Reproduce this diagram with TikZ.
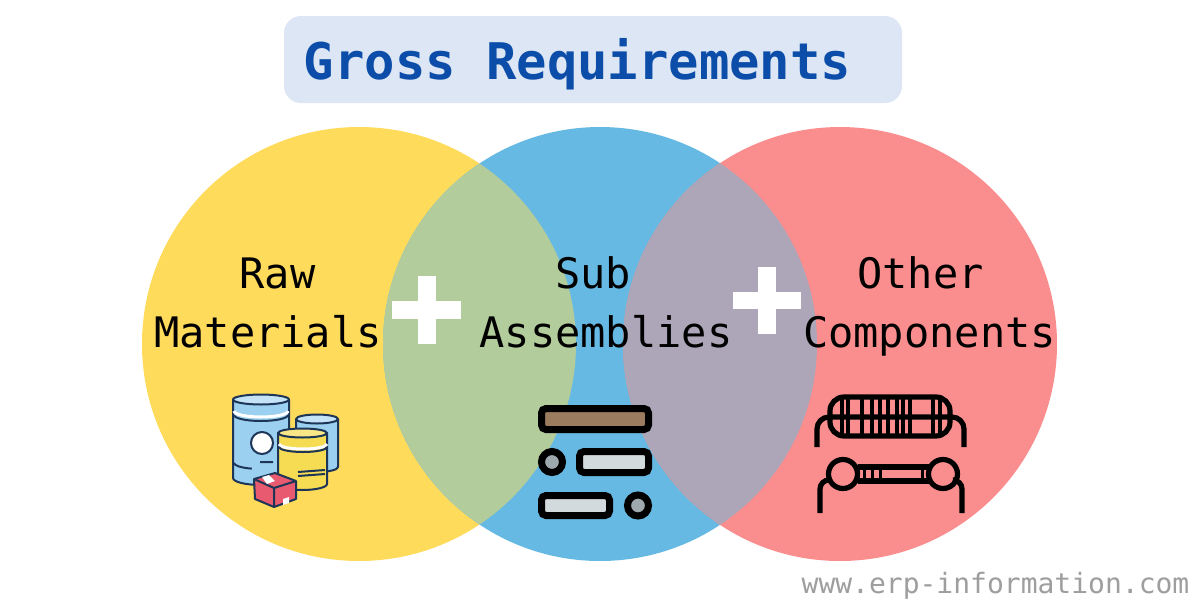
\documentclass[tikz,border=0pt]{standalone}
\usepackage{fontspec}
\setmonofont{DejaVu Sans Mono}
\usetikzlibrary{positioning}
\definecolor{venn yellow}{HTML}{FFDB5C}
\definecolor{venn blue}{HTML}{66B9E2}
\definecolor{venn red}{HTML}{FA8E8E}
\definecolor{venn green}{HTML}{B3CC9C}
\definecolor{venn mauve}{HTML}{ADA5B8}
\definecolor{title back}{HTML}{DCE6F4}
\definecolor{title ink}{HTML}{0B4DA8}
\definecolor{barrel ink}{HTML}{1D3557}
\definecolor{barrel blue}{HTML}{9CD0F0}
\definecolor{barrel top}{HTML}{C4E3F6}
\definecolor{barrel yellow}{HTML}{F6DC52}
\definecolor{box red}{HTML}{E85A70}
\definecolor{part brown}{HTML}{9C7C5E}
\definecolor{part pale}{HTML}{D3DADD}
\definecolor{part grey}{HTML}{9EA9AE}
\tikzset{
	label text/.style={font=\ttfamily\fontsize{42}{50}\selectfont, text=black, anchor=base, inner sep=0pt},
	plus bar/.style={fill=white},
	part line/.style={draw=black, line width=7pt, rounded corners=4.5pt},
	part dot/.style={draw=black, line width=7pt, fill=part grey},
	wire line/.style={draw=black, line width=5.2pt},
	barrel line/.style={draw=barrel ink, line width=2pt, line join=round},
}
\begin{document}
\begin{tikzpicture}[x=1pt, y=-1pt]
	\useasboundingbox (0,0) rectangle (1200,600);
	\fill[white] (0,0) rectangle (1200,600);

	% Title
	\node (titlebox) [fill=title back, rounded corners=17pt, minimum width=618pt, minimum height=87pt, inner sep=0pt] at (593,59.5) {};
	\node (title) [font=\ttfamily\bfseries\fontsize{50.5}{60}\selectfont, text=title ink, anchor=base, inner sep=0pt] at (577.5,79) {Gross Requirements};

	% Circles
	\fill[venn yellow] (359,344) circle (217);
	\fill[venn blue] (600,344) circle (217);
	\fill[venn red] (840,344) circle (217);
	\begin{scope}
		\clip (359,344) circle (217);
		\fill[venn green] (600,344) circle (217);
	\end{scope}
	\begin{scope}
		\clip (600,344) circle (217);
		\fill[venn mauve] (840,344) circle (217);
	\end{scope}

	% Labels
	\node (raw) [label text] at (277.5,288) {Raw};
	\node (materials) [label text] at (268,347) {Materials};
	\node (sub) [label text] at (593,288) {Sub};
	\node (assemblies) [label text] at (606,347) {Assemblies};
	\node (other) [label text] at (920.5,288) {Other};
	\node (components) [label text] at (929.5,347) {Components};

	% Plus signs
	\fill[plus bar] (392,301) rectangle (461,319);
	\fill[plus bar] (418,276) rectangle (436,344);
	\fill[plus bar] (733,292) rectangle (801,309);
	\fill[plus bar] (758,267) rectangle (776,334);

	% Barrels
	\draw[barrel line, fill=barrel blue] (296,419) -- (296,467) arc (180:0:21 and 5) -- (338,419) -- cycle;
	\draw[barrel line, fill=barrel top] (317,419) ellipse (21 and 4.5);
	\draw[barrel line, fill=barrel blue] (233,399.5) -- (233,478) arc (180:0:28 and 7) -- (289,399.5) -- cycle;
	\draw[barrel line, fill=barrel top] (261,399.5) ellipse (28 and 5);
	\draw[white, line width=3pt] (234,411) arc (180:0:27 and 6);
	\draw[barrel line] (234,415) arc (180:0:27 and 6);
	\draw[barrel line, fill=white] (262,443) circle (11);
	\draw[barrel line] (260,462) -- (273,462) (234,463) arc (180:110:27 and 6);
	\draw[barrel line, fill=barrel yellow] (278,433) -- (278,484) arc (180:0:24.5 and 6) -- (327,433) -- cycle;
	\draw[barrel line, fill=barrel yellow!70!white] (302.5,433) ellipse (24.5 and 4.5);
	\draw[white, line width=3pt] (279,444) arc (180:0:24 and 5);
	\draw[barrel line] (279,447) arc (180:0:24 and 5);
	\draw[barrel line] (298,472) -- (325,470) (298,476) -- (325,474);

	% Box
	\draw[barrel line, fill=box red] (254,479) -- (275,473) -- (296,481) -- (296,499) -- (274,507) -- (255,499) -- cycle;
	\draw[barrel line] (254,479) -- (274,488) -- (296,481) (274,488) -- (274,507);
	\fill[white] (262,477) -- (269,475) -- (275,481) -- (267,484) -- cycle;
	\fill[white] (283,499) -- (289,497) -- (289,503) -- (283,505) -- cycle;

	% Parts
	\draw[part line, fill=part brown] (541.5,408.5) rectangle (648.5,429.5);
	\draw[part line, fill=part pale] (579.5,451.5) rectangle (648.5,472.5);
	\draw[part line, fill=part pale] (541.5,495.5) rectangle (609.5,515.5);
	\draw[part dot] (552,462) circle (10.5);
	\draw[part dot] (638,505.5) circle (10.5);

	% Coil
	\draw[wire line, rounded corners=14pt] (830,397) rectangle (950,436);
	\draw[wire line, rounded corners=12pt] (817,447) -- (817,417) -- (964,417) -- (964,447);
	\foreach \xpos in {842,848,862,872,880,888,897,903,910,933,940} {
		\draw[black, line width=3.5pt] (\xpos,397) -- (\xpos,436);
	}

	% Resistor
	\draw[wire line, rounded corners=9pt] (820,513) -- (820,480) -- (830,480);
	\draw[wire line, rounded corners=9pt] (962,513) -- (962,480) -- (955,480);
	\draw[wire line] (843,474) circle (14.5);
	\draw[wire line] (943,474) circle (14.5);
	\draw[wire line] (857.5,467) -- (928.5,467) (857.5,481) -- (928.5,481);
	\foreach \xpos in {864,872,880,922} {
		\draw[black, line width=3pt] (\xpos,467) -- (\xpos,481);
	}

	% Web address
	\node (site) [font=\ttfamily\fontsize{28}{30}\selectfont, text=black!38] at (995.5,586) {www.erp-information.com};
\end{tikzpicture}
\end{document}
